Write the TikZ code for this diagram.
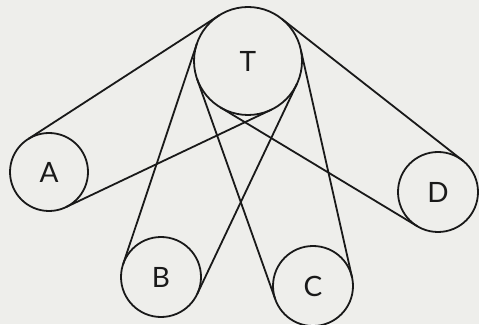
\documentclass[tikz,border=0pt]{standalone}
\usepackage{fontspec}
\setsansfont{Lato}
\definecolor{ink}{RGB}{25,25,25}
\definecolor{paper}{RGB}{238,238,235}
\begin{document}
\begin{tikzpicture}[x=1pt,y=1pt,
  wheel/.style={circle, draw=ink, line width=1.8pt, inner sep=0pt, outer sep=0pt,
    font=\sffamily\fontsize{28}{28}\selectfont, text=ink},
  belt/.style={draw=ink, line width=1.8pt}]
\fill[paper] (0,0) rectangle (479,324);
\useasboundingbox (0,0) rectangle (479,324);
\node[wheel, minimum size=108pt] (T) at (248,263) {T};
\node[wheel, minimum size=78pt] (A) at (49,152) {A};
\node[wheel, minimum size=80pt] (B) at (161,47) {B};
\node[wheel, minimum size=80pt] (C) at (313,38) {C};
\node[wheel, minimum size=80pt] (D) at (438,132) {D};
% belts: outer tangents
\draw[belt] (A.122.92) -- (T.122.92);
\draw[belt] (A.-64.62) -- (T.-64.62);
\draw[belt] (T.161.51) -- (B.161.51);
\draw[belt] (T.-25.39) -- (B.-25.39);
\draw[belt] (T.12.68) -- (C.12.68);
\draw[belt] (T.199.54) -- (C.199.54);
\draw[belt] (T.51.93) -- (D.51.93);
\draw[belt] (T.-121.11) -- (D.-121.11);
\end{tikzpicture}
\end{document}
